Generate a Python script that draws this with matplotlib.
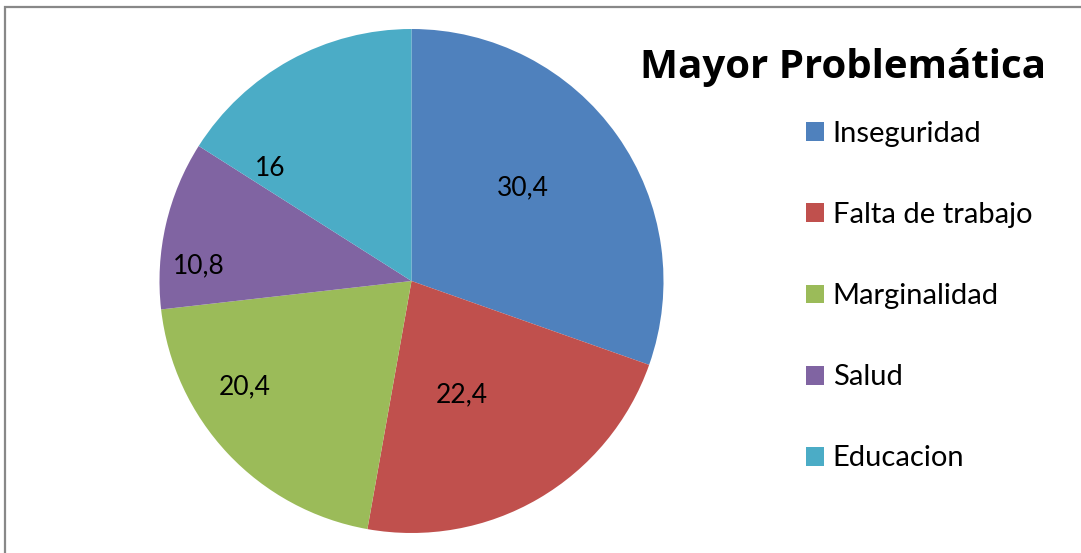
import matplotlib
matplotlib.use("Agg")
import matplotlib.pyplot as plt
from matplotlib.patches import Rectangle, Patch

plt.rcParams['font.family'] = ['Lato', 'DejaVu Sans']

categorias = ['Inseguridad', 'Falta de trabajo', 'Marginalidad', 'Salud', 'Educacion']
porcentajes = [30.4, 22.4, 20.4, 10.8, 16]
colores = ['#4F81BD', '#C0504D', '#9BBB59', '#8064A2', '#4BACC6']

W, H = 1081, 553
fig = plt.figure(figsize=(W / 100, H / 100), dpi=100)

# marco gris del area del grafico
fig.patches.append(Rectangle((5 / W, -0.1), 1.2, 1 - 7 / H + 0.1, transform=fig.transFigure,
                             fill=False, edgecolor='#888888', linewidth=1.6))

# torta centrada en (411, 281) px con radio 252 px
cx, cy, r = 411.5, 281, 252
ax = fig.add_axes([(cx - r) / W, (H - cy - r) / H, 2 * r / W, 2 * r / H])
wedges, _ = ax.pie(porcentajes, colors=colores, startangle=90, counterclock=False,
                   wedgeprops=dict(linewidth=0))
ax.set_xlim(-1, 1)
ax.set_ylim(-1, 1)
ax.axis('off')

# posiciones de las etiquetas dentro de cada porcion
pos_etiquetas = [(0.44, 0.37), (0.20, -0.45), (-0.66, -0.42), (-0.845, 0.06), (-0.56, 0.445)]
for v, (x, y) in zip(porcentajes, pos_etiquetas):
    ax.text(x, y, f"{v:g}".replace('.', ','), ha='center', va='center',
            fontsize=19, color='black')

fig.text(843 / W, 1 - 78 / H, 'Mayor Problemática', ha='center', va='baseline',
         fontsize=29, fontweight='bold', family=['Open Sans', 'DejaVu Sans'])

handles = [Patch(facecolor=c, edgecolor='none') for c in colores]
fig.legend(handles, categorias, loc='upper left', bbox_to_anchor=(806 / W, 1 - 121 / H),
           frameon=False, fontsize=21, handlelength=0.62, handleheight=0.62,
           handletextpad=0.3, labelspacing=1.89, borderaxespad=0, borderpad=0)

fig.savefig('out.png', dpi=100)
